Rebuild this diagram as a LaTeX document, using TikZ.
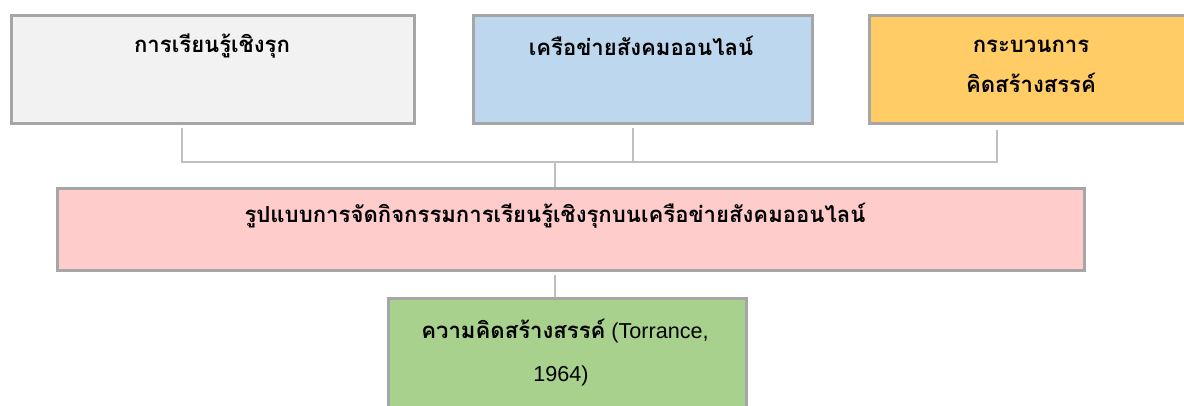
\documentclass[tikz,border=0pt]{standalone}
\usepackage{fontspec}
\newfontfamily\thai[Script=Thai]{Loma}
\newfontfamily\latn{Liberation Sans}
\definecolor{bordergray}{HTML}{A6A6A6}
\definecolor{linegray}{HTML}{BFBFBF}
\definecolor{fillgray}{HTML}{F2F2F2}
\definecolor{fillblue}{HTML}{BDD7EE}
\definecolor{fillorange}{HTML}{FFCC66}
\definecolor{fillpink}{HTML}{FFCCCC}
\definecolor{fillgreen}{HTML}{A9D18E}
\begin{document}
\begin{tikzpicture}[x=0.75pt,y=-0.75pt,
  box/.style={draw=bordergray, line width=1.9pt, rectangle, inner sep=0pt, anchor=north west},
  lbl/.style={font=\thai\bfseries\fontsize{16.6}{20}\selectfont, inner sep=0pt, text=black},
  conn/.style={draw=linegray, line width=0.9pt}]
\useasboundingbox (0,0) rectangle (1184,405);
\fill[white] (0,0) rectangle (1184,405);
% boxes
\node[box, fill=fillgray, minimum width=403*0.75pt, minimum height=108*0.75pt] (b1) at (10,14) {};
\node[box, fill=fillblue, minimum width=339*0.75pt, minimum height=108*0.75pt] (b2) at (472,14) {};
\node[box, fill=fillorange, minimum width=326*0.75pt, minimum height=108*0.75pt] (b3) at (868,14) {};
\node[box, fill=fillpink, minimum width=1027*0.75pt, minimum height=82*0.75pt] (b4) at (56,187) {};
\node[box, fill=fillgreen, minimum width=358*0.75pt, minimum height=120*0.75pt] (b5) at (387,297) {};
% labels
\node[lbl] (t1) at (212,46) {การเรียนรู้เชิงรุก};
\node[lbl] (t2) at (641,46) {เครือข่ายสังคมออนไลน์};
\node[lbl] (t3a) at (1031,46) {กระบวนการ};
\node[lbl] (t3b) at (1031,83) {คิดสร้างสรรค์};
\node[lbl] (t4) at (555,216) {รูปแบบการจัดกิจกรรมการเรียนรู้เชิงรุกบนเครือข่ายสังคมออนไลน์};
\node[lbl] (t5a) at (565,331) {ความคิดสร้างสรรค์\mdseries\latn\fontsize{16.2}{20}\selectfont\ (Torrance,};
\node[lbl] (t5b) at (561,376) {\mdseries\latn\fontsize{16.2}{20}\selectfont 1964)};
% connectors
\coordinate (j1) at (182,162);
\coordinate (j2) at (633,162);
\coordinate (j3) at (997,162);
\coordinate (j4) at (555,162);
\draw[conn] ([yshift=-3*0.75pt]b1.south -| j1) -- (j1) -- (j3) -- ([yshift=-5*0.75pt]b3.south -| j3);
\draw[conn] ([yshift=-3*0.75pt]b2.south -| j2) -- (j2);
\draw[conn] (j4) -- (b4.north -| j4);
\draw[conn] ([yshift=-3*0.75pt]b4.south -| j4) -- (b5.north -| j4);
\end{tikzpicture}
\end{document}
